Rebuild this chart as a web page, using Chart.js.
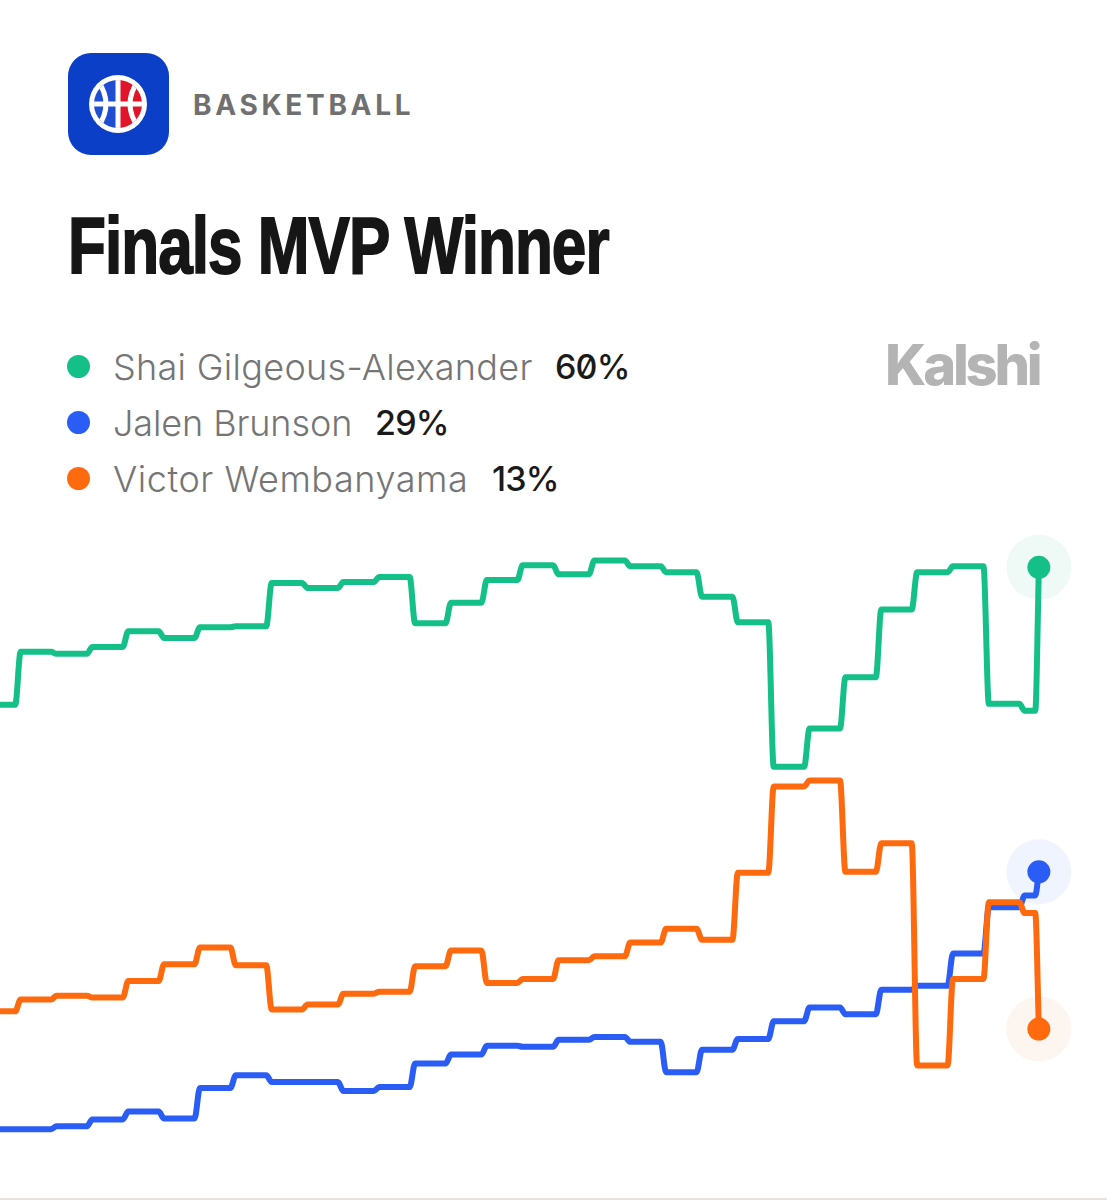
<!DOCTYPE html>
<html><head><meta charset="utf-8">
<script src="https://cdn.jsdelivr.net/npm/chart.js@4"></script>
<style>
html,body{margin:0;padding:0;background:#fff;width:1107px;height:1200px;overflow:hidden}
.a{position:absolute;white-space:nowrap;line-height:1}
#cat{left:193px;top:88px;font:700 28px Inter,sans-serif;letter-spacing:3.7px;color:#707070}
#title{left:68px;top:200px;font:700 80px "Liberation Sans",sans-serif;color:#161616;letter-spacing:-1.2px;-webkit-text-stroke:1.8px #161616;transform-origin:0 0;transform:scaleX(0.775)}
#brand{left:885px;top:331px;font:800 56px Inter,sans-serif;letter-spacing:-3.2px;color:#b4b4b4}
.row{position:absolute;left:67px;height:40px;white-space:nowrap}
.dot{position:absolute;left:0;top:8px;width:23px;height:23px;border-radius:50%}
.name{position:absolute;left:46px;top:0;font:300 36px Inter,sans-serif;color:#757575;line-height:40px}
.val{position:absolute;top:0;font:500 34px Inter,sans-serif;color:#1a1a1a;line-height:40px;letter-spacing:-.8px}
#chart{position:absolute;left:0;top:528px}
#strip{position:absolute;left:0;top:1198px;width:1107px;height:2px;background:#e6e3df}
</style></head><body>
<svg class="a" style="left:68px;top:53px" width="101" height="102" viewBox="0 0 101 102">
<defs><clipPath id="c"><circle cx="50" cy="51" r="24"/></clipPath></defs>
<rect width="101" height="102" rx="23" fill="#0b3fc8"/>
<circle cx="50" cy="51" r="29" fill="#fff"/>
<g clip-path="url(#c)"><rect x="26" y="27" width="24" height="48" fill="#1f4ed2"/><rect x="50" y="27" width="24" height="48" fill="#e0152a"/>
<path d="M50 20V82M18 51H82M30 28Q46 51 30 74M70 28Q54 51 70 74" stroke="#fff" stroke-width="5" fill="none"/></g>
</svg>
<div class="a" id="cat">BASKETBALL</div>
<div class="a" id="title">Finals MVP Winner</div>
<div class="a" id="brand">Kalshi</div>
<div class="row" style="top:347px"><span class="dot" style="background:#14c088"></span><span class="name" style="letter-spacing:.3px">Shai Gilgeous-Alexander</span><span class="val" style="left:488px;font-feature-settings:'zero' 1">60%</span></div>
<div class="row" style="top:403px"><span class="dot" style="background:#2a5cf6"></span><span class="name" style="letter-spacing:-.1px">Jalen Brunson</span><span class="val" style="left:308px">29%</span></div>
<div class="row" style="top:459px"><span class="dot" style="background:#ff6a0e"></span><span class="name" style="letter-spacing:.55px">Victor Wembanyama</span><span class="val" style="left:425px">13%</span></div>
<canvas id="chart" width="1107" height="672"></canvas>
<div id="strip"></div>
<script>
const seriesNames = ["Shai Gilgeous-Alexander", "Jalen Brunson", "Victor Wembanyama"];
const shaiValues = [46.0,51.4,51.2,51.9,53.5,52.8,53.9,54.0,58.4,57.9,58.5,59.0,54.3,56.4,58.7,60.2,59.3,60.7,60.1,59.5,57.0,54.4,39.7,43.6,48.8,55.7,59.5,60.1,46.1,45.4];
const jalenValues = [2.8,2.8,3.1,3.8,4.6,3.9,7.0,8.3,7.6,7.6,6.7,7.1,9.5,10.4,11.3,11.2,11.9,12.2,11.7,8.6,10.9,12.0,13.8,15.2,14.5,17.0,17.4,20.7,25.4,26.6];
const victorValues = [14.8,16.0,16.4,16.2,17.9,19.6,21.3,19.5,15.0,15.5,16.6,16.8,19.4,21.0,17.7,18.1,20.0,20.4,21.8,23.2,22.1,28.9,37.7,38.3,29.0,31.9,9.3,18.1,25.9,24.8];
const latestValues = [60, 29, 13];
const lastStepEnd = 29.37, latestTime = 29.47;
const lineColors = ["#14c088", "#2a5cf6", "#ff6a0e"];
const haloColors = ["#eff9f6", "#f0f4fe", "#fdf5f0"];

function stepPoints(values, latest){
  const pts = [];
  values.forEach((v, k) => {
    const end = k === values.length - 1 ? lastStepEnd : k + 1 - 0.075;
    pts.push({x: k === 0 ? k : k + 0.075, y: v}, {x: end, y: v});
  });
  pts.push({x: latestTime, y: latest});
  return pts;
}
const allValues = [shaiValues, jalenValues, victorValues];
const lineDrawOrder = [2, 1, 0];
const datasets = [];
allValues.forEach((vals, i) => {
  const data = stepPoints(vals, latestValues[i]);
  const lastIdx = data.length - 1;
  datasets.push({
    label: seriesNames[i], data, order: lineDrawOrder[i],
    borderColor: lineColors[i], backgroundColor: lineColors[i], borderWidth: 6,
    cubicInterpolationMode: "monotone", borderJoinStyle: "round", borderCapStyle: "round", fill: false,
    pointRadius: c => c.dataIndex === lastIdx ? 11.5 : 0,
    pointBackgroundColor: lineColors[i], pointBorderWidth: 0
  });
  datasets.push({
    label: seriesNames[i] + " latest", data: [{x: latestTime, y: latestValues[i]}], order: 10,
    showLine: false, pointRadius: 32.5, pointBackgroundColor: haloColors[i], pointBorderWidth: 0
  });
});
new Chart(document.getElementById("chart"), {
  type: "line",
  data: {datasets},
  options: {
    responsive: false, animation: false, devicePixelRatio: 1,
    layout: {padding: 0, autoPadding: false},
    plugins: {legend: {display: false}, tooltip: {enabled: false}},
    scales: {
      x: {type: "linear", display: false, min: 0.5, max: 31.37},
      y: {type: "linear", display: false, min: -4.4, max: 64}
    }
  }
});
</script>
</body></html>
